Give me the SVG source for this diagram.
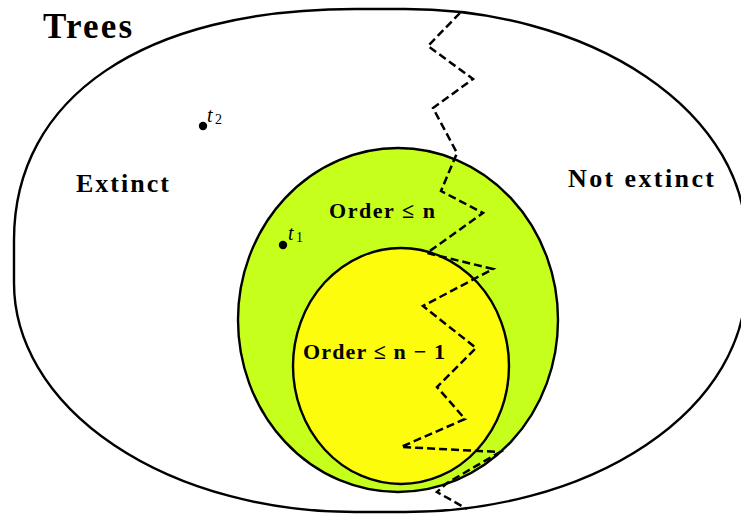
<svg xmlns="http://www.w3.org/2000/svg" width="741" height="515" viewBox="0 0 741 515">
<style>
.lbl{font-family:"Liberation Serif","DejaVu Serif",serif;font-weight:bold;fill:#000}
.mi{font-family:"Liberation Serif","DejaVu Serif",serif;font-style:italic;fill:#000}
.sub{font-family:"Liberation Serif","DejaVu Serif",serif;fill:#000}
.set{stroke:#000;stroke-width:2.4}
</style>
<rect width="741" height="515" fill="#fff"/>
<g id="trees">
<path class="set" fill="#fff" stroke-width="2.8" d="M355,9 L405,9 A341,231 0 0 1 746,240 L746,283 A341,229 0 0 1 405,512 L355,512 A341,229 0 0 1 14,283 L14,240 C14,97 144,9 355,9 Z"/>
<text class="lbl" x="43" y="38" font-size="35" textLength="89">Trees</text>
</g>
<g id="extinct">
<text class="lbl" x="76" y="192" font-size="26" textLength="93">Extinct</text>
</g>
<g id="not-extinct">
<text class="lbl" x="568" y="187" font-size="26" textLength="146">Not extinct</text>
</g>
<g id="order-n">
<ellipse class="set" cx="398" cy="320" rx="160" ry="172" fill="#C6FF1C"/>
<text class="lbl" x="329" y="218" font-size="22" textLength="106">Order ≤ n</text>
</g>
<g id="order-n-1">
<ellipse class="set" cx="401" cy="366" rx="108" ry="118" fill="#FCFC0C"/>
<text class="lbl" x="303" y="359" font-size="22" textLength="142">Order ≤ n − 1</text>
</g>
<g id="connectors">
<polyline fill="none" stroke="#000" stroke-width="2.5" stroke-dasharray="8 4" points="460,13 428,46 473,79 433,108 457,153 441,191 483,213 427,253 493,269 423,306 476,348 437,387 465,419 401,447 500,452 447,483 437,492 467,509"/>
</g>
<g id="t2">
<circle cx="203" cy="126" r="4.2" fill="#000"/>
<text class="mi" x="207" y="122" font-size="20">t</text>
<text class="sub" x="215" y="124" font-size="14">2</text>
</g>
<g id="t1">
<circle cx="283" cy="245" r="4.2" fill="#000"/>
<text class="mi" x="288" y="240" font-size="20">t</text>
<text class="sub" x="296" y="242" font-size="14">1</text>
</g>
</svg>
